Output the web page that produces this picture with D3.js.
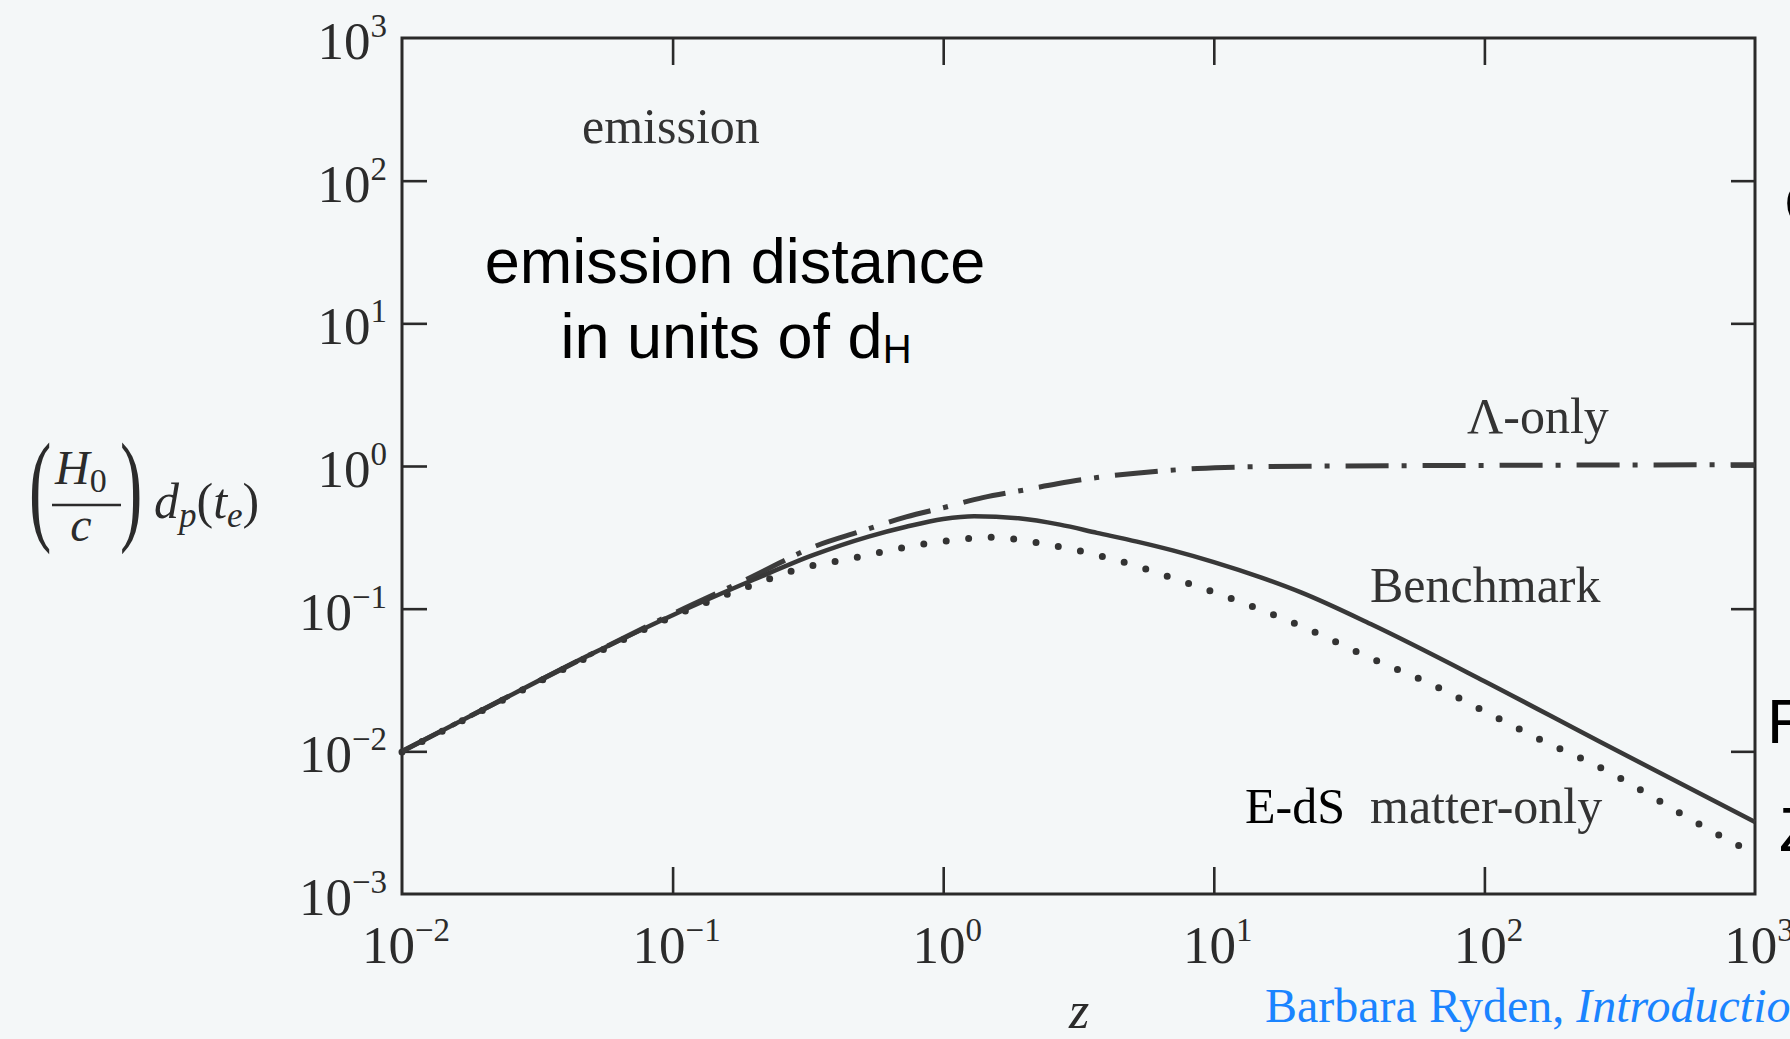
<!DOCTYPE html>
<html>
<head>
<meta charset="utf-8">
<script src="https://cdn.jsdelivr.net/npm/d3@7"></script>
<style>
  html, body { margin: 0; padding: 0; background: #f4f7f8; }
  svg { display: block; }
</style>
</head>
<body>
<div id="chart"></div>
<script>
"use strict"

// redshift / distance values (H0/c units)
var zBench = [0.01, 0.02, 0.05, 0.1, 0.2, 0.33, 0.53, 0.73, 1.0, 1.3, 1.9, 2.7, 3.7, 5.2, 7.1, 10, 15, 21, 38, 100, 264, 1000];
var dBench = [0.0100, 0.0197, 0.048, 0.090, 0.160, 0.237, 0.320, 0.375, 0.425, 0.445, 0.430, 0.388, 0.340, 0.295, 0.255, 0.212, 0.165, 0.130, 0.078, 0.031, 0.0118, 0.0032];

var zEdS = [0.01, 0.02, 0.05, 0.1, 0.2, 0.3, 0.46, 0.81, 1.17, 1.43, 2.55, 4.47, 7.6, 12.8, 22.3, 36.8, 63, 105, 175, 246, 682, 1000];
var dEdS = [0.0099, 0.0195, 0.047, 0.088, 0.148, 0.192, 0.225, 0.280, 0.307, 0.317, 0.277, 0.216, 0.156, 0.110, 0.072, 0.0463, 0.0298, 0.0182, 0.0112, 0.00835, 0.0028, 0.0019];

var zLambda = [0.01, 0.02, 0.05, 0.1, 0.2, 0.33, 0.5, 0.73, 1.0, 1.4, 2.0, 2.64, 3.7, 5.15, 8.7, 15, 30, 100, 1000];
var dLambda = [0.0100, 0.0197, 0.048, 0.092, 0.17, 0.27, 0.35, 0.44, 0.51, 0.60, 0.68, 0.75, 0.83, 0.89, 0.96, 0.99, 1.0, 1.01, 1.02];

var yTickExp = [3, 2, 1, 0, -1, -2, -3];
var xTickExp = [-2, -1, 0, 1, 2, 3];

var width = 1790, height = 1039;
var serif = "'Liberation Serif', 'Times New Roman', serif";
var sans = "'Liberation Sans', Arial, sans-serif";

var svg = d3.select("#chart").append("svg")
    .attr("width", width)
    .attr("height", height);

svg.append("rect")
    .attr("width", width)
    .attr("height", height)
    .attr("fill", "#f4f7f8");

var x = d3.scaleLog().domain([1e-2, 1e3]).range([402, 1755]);
var y = d3.scaleLog().domain([1e-3, 1e3]).range([894, 38]);

function zip(zs, ds) {
    return zs.map(function(z, i) { return {z: z, d: ds[i]}; });
}

// inward ticks on all four sides
var inner = function(a) { return Math.pow(10, a); };
var yInner = [2, 1, 0, -1, -2].map(inner);
var xInner = [-1, 0, 1, 2].map(inner);

var axes = svg.append("g").attr("class", "axes");

axes.append("g")
    .attr("transform", "translate(402,0)")
    .call(d3.axisLeft(y).tickValues(yInner).tickSize(-25).tickFormat(""));
axes.append("g")
    .attr("transform", "translate(1755,0)")
    .call(d3.axisRight(y).tickValues(yInner).tickSize(-24).tickFormat(""));
axes.append("g")
    .attr("transform", "translate(0,894)")
    .call(d3.axisBottom(x).tickValues(xInner).tickSize(-27).tickFormat(""));
axes.append("g")
    .attr("transform", "translate(0,38)")
    .call(d3.axisTop(x).tickValues(xInner).tickSize(-27).tickFormat(""));

axes.selectAll(".domain").remove();
axes.selectAll(".tick line")
    .attr("stroke", "#2a2a2a")
    .attr("stroke-width", 2.6);

svg.append("rect")
    .attr("x", 402)
    .attr("y", 38)
    .attr("width", 1755 - 402)
    .attr("height", 894 - 38)
    .attr("fill", "none")
    .attr("stroke", "#2a2a2a")
    .attr("stroke-width", 3);

// power-of-ten tick labels
function powLabel(text, e) {
    text.append("tspan").text("10");
    text.append("tspan")
        .attr("dy", -22)
        .attr("font-size", 33)
        .text(e < 0 ? "\u2212" + (-e) : String(e));
}

svg.append("g").selectAll("text")
    .data(yTickExp)
    .enter()
    .append("text")
    .attr("x", 387)
    .attr("y", function(e) { return y(Math.pow(10, e)) + 21; })
    .attr("text-anchor", "end")
    .attr("font-family", serif)
    .attr("font-size", 53)
    .attr("fill", "#2b2b2b")
    .each(function(e) { powLabel(d3.select(this), e); });

svg.append("g").selectAll("text")
    .data(xTickExp)
    .enter()
    .append("text")
    .attr("x", function(e) { return x(Math.pow(10, e)) + 4; })
    .attr("y", 963)
    .attr("text-anchor", "middle")
    .attr("font-family", serif)
    .attr("font-size", 53)
    .attr("fill", "#2b2b2b")
    .each(function(e) { powLabel(d3.select(this), e); });

// curves
var line = d3.line()
    .x(function(d) { return x(d.z); })
    .y(function(d) { return y(d.d); })
    .curve(d3.curveMonotoneX);

var plot = svg.append("g").attr("class", "curves");

plot.append("path")
    .datum(zip(zLambda, dLambda))
    .attr("d", line)
    .attr("fill", "none")
    .attr("stroke", "#3c3c3c")
    .attr("stroke-width", 5)
    .attr("stroke-dasharray", "43,13,5,16");

plot.append("path")
    .datum(zip(zEdS, dEdS))
    .attr("d", line)
    .attr("fill", "none")
    .attr("stroke", "#333")
    .attr("stroke-width", 7)
    .attr("stroke-linecap", "round")
    .attr("stroke-dasharray", "0,22.6");

plot.append("path")
    .datum(zip(zBench, dBench))
    .attr("d", line)
    .attr("fill", "none")
    .attr("stroke", "#383838")
    .attr("stroke-width", 4.5);

// axis titles
var ylab = svg.append("g").attr("class", "ylabel")
    .attr("font-family", serif)
    .attr("fill", "#2b2b2b");

ylab.append("text")
    .attr("transform", "translate(29,528) scale(0.55,1)")
    .attr("font-size", 122)
    .text("(");
ylab.append("text")
    .attr("transform", "translate(120,528) scale(0.55,1)")
    .attr("font-size", 122)
    .text(")");

var h0 = ylab.append("text")
    .attr("x", 55)
    .attr("y", 484)
    .attr("font-size", 48)
    .attr("font-style", "italic");
h0.append("tspan").text("H");
h0.append("tspan").attr("font-size", 34).attr("font-style", "normal").attr("dy", 8).text("0");

ylab.append("line")
    .attr("x1", 52).attr("x2", 121)
    .attr("y1", 505).attr("y2", 505)
    .attr("stroke", "#2b2b2b")
    .attr("stroke-width", 2.5);

ylab.append("text")
    .attr("x", 81)
    .attr("y", 541)
    .attr("text-anchor", "middle")
    .attr("font-size", 48)
    .attr("font-style", "italic")
    .text("c");

var dp = ylab.append("text")
    .attr("x", 154)
    .attr("y", 518)
    .attr("font-size", 50);
dp.append("tspan").attr("font-style", "italic").text("d");
dp.append("tspan").attr("font-style", "italic").attr("font-size", 35).attr("dy", 9).text("p");
dp.append("tspan").attr("dy", -9).text("(");
dp.append("tspan").attr("font-style", "italic").text("t");
dp.append("tspan").attr("font-style", "italic").attr("font-size", 35).attr("dy", 9).text("e");
dp.append("tspan").attr("dy", -9).text(")");

svg.append("text")
    .attr("x", 1079)
    .attr("y", 1028)
    .attr("text-anchor", "middle")
    .attr("font-family", serif)
    .attr("font-style", "italic")
    .attr("font-size", 52)
    .attr("fill", "#2b2b2b")
    .text("z");

// curve annotations
var notes = [
    {text: "emission", x: 582, y: 143, color: "#333"},
    {text: "\u039B-only", x: 1467, y: 433, color: "#333"},
    {text: "Benchmark", x: 1370, y: 602, color: "#333"},
    {text: "matter-only", x: 1370, y: 823, color: "#333"},
    {text: "E-dS", x: 1245, y: 823, color: "#000"}
];

svg.append("g").selectAll("text")
    .data(notes)
    .enter()
    .append("text")
    .attr("x", function(d) { return d.x; })
    .attr("y", function(d) { return d.y; })
    .attr("font-family", serif)
    .attr("font-size", 50)
    .attr("fill", function(d) { return d.color; })
    .text(function(d) { return d.text; });

// slide overlay text
svg.append("text")
    .attr("x", 735)
    .attr("y", 283)
    .attr("text-anchor", "middle")
    .attr("font-family", sans)
    .attr("font-size", 63)
    .attr("fill", "#000")
    .text("emission distance");

var units = svg.append("text")
    .attr("x", 736)
    .attr("y", 358)
    .attr("text-anchor", "middle")
    .attr("font-family", sans)
    .attr("font-size", 63)
    .attr("fill", "#000");
units.append("tspan").text("in units of d");
units.append("tspan").attr("font-size", 40).attr("dy", 5).text("H");

var credit = svg.append("text")
    .attr("x", 1265)
    .attr("y", 1022)
    .attr("font-family", serif)
    .attr("font-size", 48)
    .attr("fill", "#1a84ff");
credit.append("tspan").text("Barbara Ryden, ");
credit.append("tspan").attr("font-style", "italic").text("Introduction to Cosmology");

// letters cut off at the right edge of the slide
[["C", 1784, 225], ["F", 1767, 743], ["Z", 1779, 851]].forEach(function(c) {
    svg.append("text")
        .attr("x", c[1])
        .attr("y", c[2])
        .attr("font-family", sans)
        .attr("font-size", 63)
        .attr("fill", "#000")
        .text(c[0]);
});
</script>
</body>
</html>
